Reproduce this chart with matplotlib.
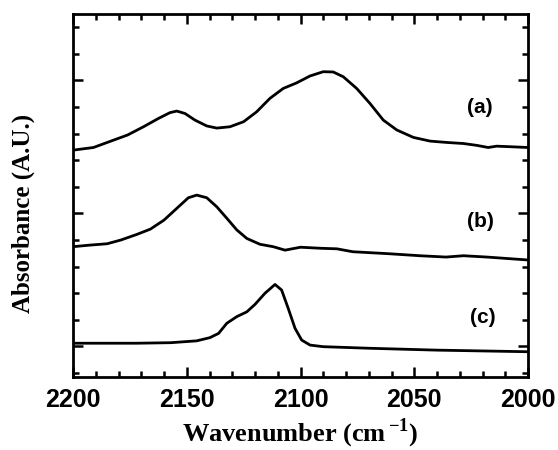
import matplotlib
matplotlib.use("Agg")
import matplotlib.pyplot as plt
from matplotlib.ticker import MultipleLocator

# Data
wn_a = [2200, 2191, 2184, 2176, 2169, 2162.5, 2157.4, 2154.4, 2150.8, 2146.4,
        2141.2, 2136.8, 2131, 2125, 2119.3, 2113.4, 2107.6, 2101.7, 2095.8, 2090,
        2085.6, 2081.2, 2075.3, 2069.5, 2063.6, 2057.7, 2050.4, 2043, 2035.7,
        2028.4, 2022.5, 2017.5, 2013.8, 2008, 2000]
abs_a = [8.38, 8.48, 8.70, 8.95, 9.26, 9.57, 9.79, 9.85, 9.76, 9.51,
         9.29, 9.21, 9.26, 9.45, 9.82, 10.33, 10.70, 10.91, 11.17, 11.33,
         11.32, 11.14, 10.70, 10.14, 9.51, 9.14, 8.86, 8.72, 8.67,
         8.63, 8.56, 8.48, 8.53, 8.51, 8.48]

wn_b = [2200, 2192.5, 2185, 2179, 2172, 2166, 2160, 2154.4, 2149.3, 2145.6,
        2141.2, 2136.8, 2132.4, 2128, 2123.6, 2117.8, 2112, 2106.8, 2100, 2091,
        2084, 2077, 2062, 2047.5, 2036, 2028.4, 2018, 2000]
abs_b = [4.75, 4.81, 4.86, 5.00, 5.21, 5.41, 5.75, 6.19, 6.59, 6.69,
         6.59, 6.25, 5.82, 5.38, 5.06, 4.84, 4.75, 4.62, 4.73, 4.69,
         4.67, 4.56, 4.49, 4.41, 4.36, 4.41, 4.36, 4.25]

wn_c = [2200, 2172, 2157, 2145.6, 2139.8, 2136, 2132.4, 2128, 2123.6, 2120,
        2115.6, 2111.2, 2108.3, 2105.4, 2102.4, 2099.5, 2095.8, 2090, 2069.5,
        2040, 2000]
abs_c = [1.12, 1.12, 1.14, 1.21, 1.33, 1.49, 1.87, 2.12, 2.30, 2.58,
         3.00, 3.33, 3.12, 2.43, 1.68, 1.24, 1.05, 0.99, 0.93,
         0.86, 0.80]

labels = ["(a)", "(b)", "(c)"]
label_x = [2021, 2021, 2020]
label_y = [10.0, 5.68, 2.1]

plt.rcParams["mathtext.fontset"] = "custom"
plt.rcParams["mathtext.rm"] = "Liberation Serif:bold"
plt.rcParams["mathtext.bf"] = "Liberation Serif:bold"

fig = plt.figure(figsize=(5.58, 4.5), dpi=100)
ax = fig.add_axes([73/558, 1-377/450, 455/558, 363/450])

for wn, ab in [(wn_a, abs_a), (wn_b, abs_b), (wn_c, abs_c)]:
    ax.plot(wn, ab, color="black", lw=2.0, solid_joinstyle="round",
            solid_capstyle="round")

for t, x, y in zip(labels, label_x, label_y):
    ax.text(x, y, t, fontsize=15, fontweight="bold", family="Liberation Sans",
            ha="center", va="center")

ax.set_xlim(2200, 2000)
ax.set_ylim(-0.15, 13.5)
ax.xaxis.set_major_locator(MultipleLocator(50))
ax.xaxis.set_minor_locator(MultipleLocator(10))
ax.yaxis.set_major_locator(MultipleLocator(5, offset=1))
ax.yaxis.set_minor_locator(MultipleLocator(1))
ax.set_yticklabels([])

ax.tick_params(which="both", direction="in", top=True, right=True, width=1.8)
ax.tick_params(which="major", length=7)
ax.tick_params(which="minor", length=4)
ax.tick_params(axis="x", which="major", pad=8, labelsize=18)
for lab in ax.get_xticklabels():
    lab.set_fontfamily("Liberation Sans")
    lab.set_fontweight("bold")
for s in ax.spines.values():
    s.set_linewidth(2.0)

fig.text(300/558, 1-433/450, r"Wavenumber (cm$^{\,\mathbf{-1}}$)", fontsize=19,
         fontweight="bold", family="Liberation Serif", ha="center", va="center")
fig.text(23/558, 1-213/450, "Absorbance (A.U.)", fontsize=18, fontweight="bold",
         family="Liberation Serif", ha="center", va="center", rotation=90)

fig.savefig("out.png", dpi=100)
